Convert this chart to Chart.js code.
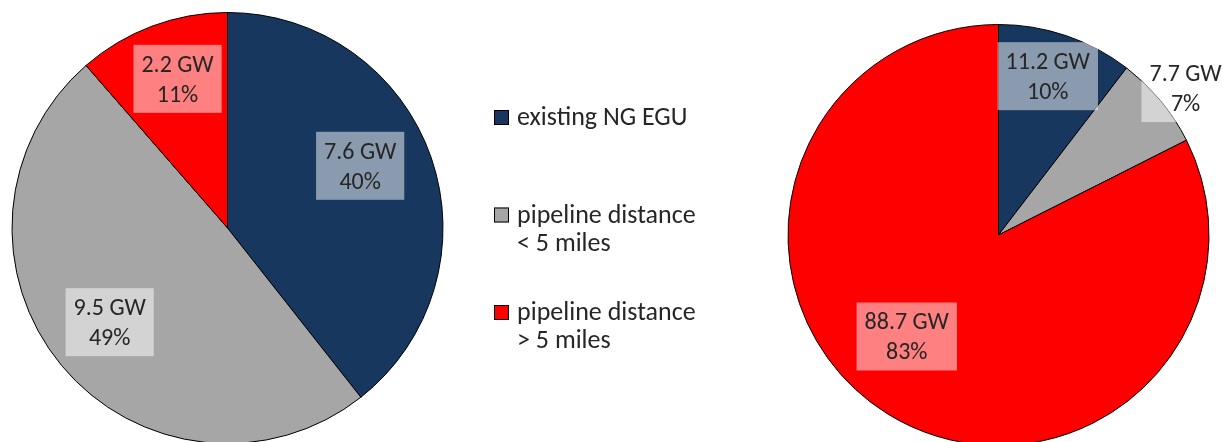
<!DOCTYPE html>
<html>
<head>
<meta charset="utf-8">
<script src="https://cdn.jsdelivr.net/npm/chart.js@4"></script>
<style>
  html, body { margin: 0; padding: 0; background: #fff; overflow: hidden; }
  #wrap { position: relative; width: 1223px; height: 442px; }
  canvas { position: absolute; top: 0; }
</style>
</head>
<body>
<div id="wrap">
  <canvas id="leftPie" width="760" height="470" style="left:0"></canvas>
  <canvas id="rightPie" width="455" height="470" style="left:768px"></canvas>
</div>
<script>
// Chart data
const categories = [
    ['existing NG EGU'],
    ['pipeline distance', '< 5 miles'],
    ['pipeline distance', '> 5 miles']
];
const leftGW = [7.6, 9.5, 2.2];
const leftPct = [40, 49, 11];
const rightGW = [11.2, 7.7, 88.7];
const rightPct = [10, 7, 83];

const sliceColors = ['#17375E', '#A6A6A6', '#FF0000'];
const textColor = '#262626';
const fontFamily = 'Carlito, Calibri, Lato, sans-serif';

// Boxed "x GW / y%" labels placed around each slice's middle angle
const sliceLabels = {
    id: 'sliceLabels',
    afterDatasetsDraw(chart, args, opts) {
        const ctx = chart.ctx;
        const meta = chart.getDatasetMeta(0);
        const ds = chart.data.datasets[0];
        ctx.save();
        ctx.font = opts.fontSize + 'px ' + fontFamily;
        ctx.textAlign = 'center';
        ctx.textBaseline = 'alphabetic';
        meta.data.forEach(function(arc, i) {
            const p = opts.place[i];
            const mid = (arc.startAngle + arc.endAngle) / 2 + p.a * Math.PI / 180;
            const r = arc.outerRadius * p.r;
            const cx = arc.x + Math.cos(mid) * r;
            const cy = arc.y + Math.sin(mid) * r;
            const lines = [ds.data[i].toFixed(1) + ' GW', opts.pct[i] + '%'];
            const w = Math.max.apply(null, lines.map(t => ctx.measureText(t).width)) + 2 * opts.padX;
            ctx.fillStyle = 'rgba(255,255,255,0.5)';
            ctx.fillRect(cx - w / 2, cy - 34, w, 68);
            ctx.fillStyle = textColor;
            ctx.fillText(lines[0], cx, cy - 7);
            ctx.fillText(lines[1], cx, cy + 23);
        });
        ctx.restore();
    }
};

// Legend between the two pies (multi-line entries)
const sideLegend = {
    id: 'sideLegend',
    afterDraw(chart, args, opts) {
        const ctx = chart.ctx;
        const ds = chart.data.datasets[0];
        ctx.save();
        ctx.font = opts.fontSize + 'px ' + fontFamily;
        ctx.textAlign = 'left';
        ctx.textBaseline = 'alphabetic';
        chart.data.labels.forEach(function(lines, i) {
            const base = opts.top + i * opts.step;
            ctx.fillStyle = ds.backgroundColor[i];
            ctx.fillRect(opts.x, base - 15, 15, 15);
            ctx.strokeStyle = '#000';
            ctx.lineWidth = 1;
            ctx.strokeRect(opts.x + 0.5, base - 14.5, 14, 14);
            ctx.fillStyle = textColor;
            lines.forEach(function(t, j) {
                ctx.fillText(t, opts.x + 23, base + j * opts.lineHeight);
            });
        });
        ctx.restore();
    }
};

function pieConfig(values, pct, padding, place, extraPlugins, legendOpts) {
    return {
        type: 'pie',
        data: {
            labels: categories,
            datasets: [{
                data: values,
                backgroundColor: sliceColors,
                borderColor: '#000',
                borderWidth: 1,
                hoverOffset: 0,
                offset: 0
            }]
        },
        options: {
            responsive: false,
            animation: false,
            events: [],
            layout: { padding: padding },
            plugins: {
                legend: { display: false },
                tooltip: { enabled: false },
                sliceLabels: { fontSize: 24, padX: 8, pct: pct, place: place },
                sideLegend: legendOpts || {}
            }
        },
        plugins: [sliceLabels].concat(extraPlugins)
    };
}

new Chart(document.getElementById('leftPie'), pieConfig(
    leftGW, leftPct,
    { left: 11.5, right: 316.5, top: 12, bottom: 26 },
    [{ r: 0.68, a: -6 }, { r: 0.70, a: 1 }, { r: 0.73, a: 2 }],
    [sideLegend],
    { x: 494, top: 125, step: 97.5, lineHeight: 28, fontSize: 26 }
));

new Chart(document.getElementById('rightPie'), pieConfig(
    rightGW, rightPct,
    { left: 19.5, right: 13.5, top: 24, bottom: 24 },
    [{ r: 0.79, a: -1.5 }, { r: 1.13, a: 1.5 }, { r: 0.65, a: 10.5 }],
    []
));
</script>
</body>
</html>
